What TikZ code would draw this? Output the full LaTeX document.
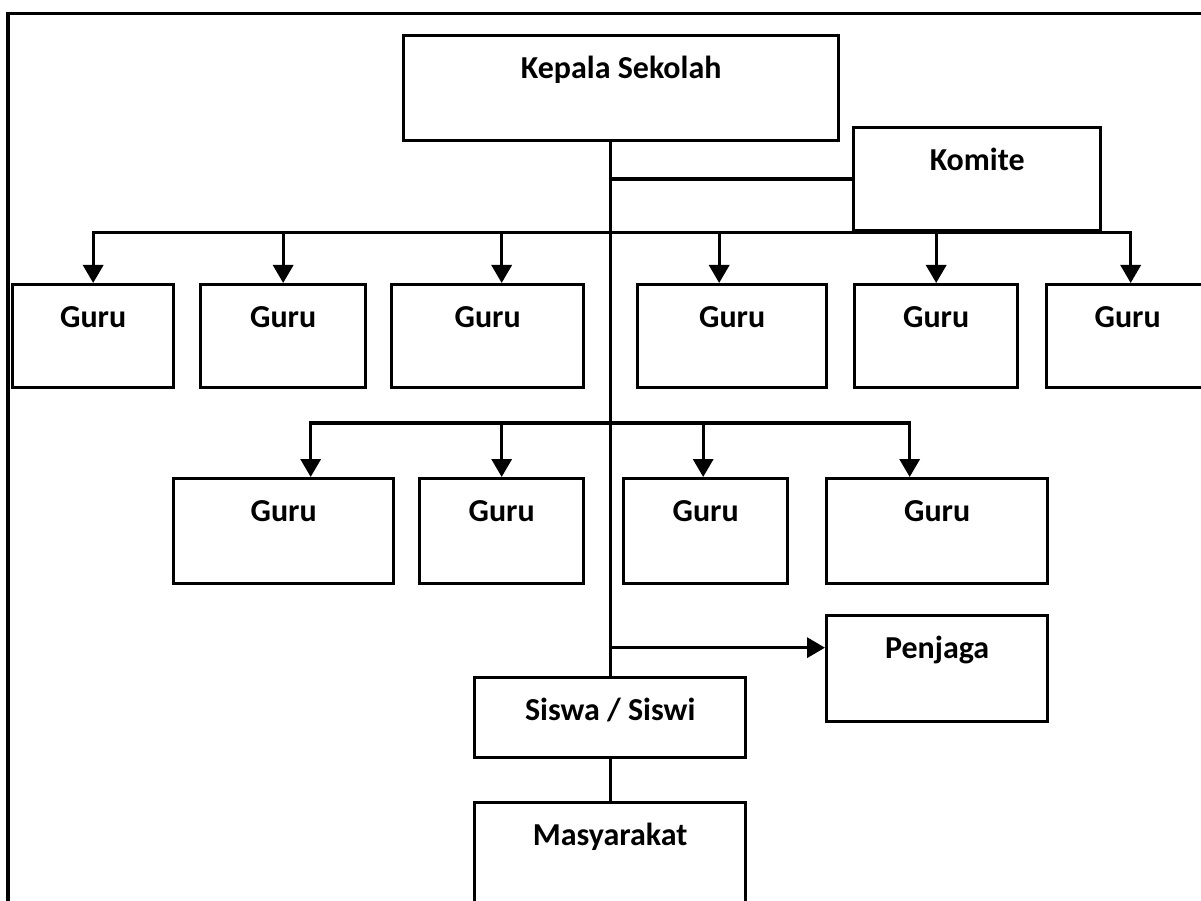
\documentclass[tikz,border=0pt]{standalone}
\usepackage{fontspec}
\setmainfont{Carlito}
\usetikzlibrary{arrows.meta}

\begin{document}
\begin{tikzpicture}[font=\bfseries\fontsize{18.2}{20}\selectfont,
	unit/.style 2 args={draw, line width=1.9pt, inner sep=0pt, anchor=north west, minimum width=#1cm, text height=0.86cm, text depth=#2cm},
	feed/.style={line width=1.9pt, -{Triangle[length=0.36cm, width=0.4cm]}},
	tie/.style={line width=1.9pt}]
	\useasboundingbox (0,0) rectangle (24.02,-18.02);
	\clip (0,0) rectangle (24.02,-18.02);
	% frame
	\draw[tie] (0.16,-19) |- (25,-0.27);
	% top
	\node[unit={8.70}{1.24}] (kepsek) at (8.04,-0.68) {Kepala Sekolah};
	\node[unit={4.94}{1.20}] (komite) at (17.04,-2.52) {Komite};
	% guru, first row
	\node[unit={3.22}{1.20}] (g1) at (0.22,-5.66) {Guru};
	\node[unit={3.30}{1.20}] (g2) at (3.98,-5.66) {Guru};
	\node[unit={3.84}{1.20}] (g3) at (7.80,-5.66) {Guru};
	\node[unit={3.78}{1.20}] (g4) at (12.72,-5.66) {Guru};
	\node[unit={3.26}{1.20}] (g5) at (17.06,-5.66) {Guru};
	\node[unit={3.24}{1.20}] (g6) at (20.90,-5.66) {Guru};
	% guru, second row
	\node[unit={4.40}{1.24}] (h1) at (3.44,-9.54) {Guru};
	\node[unit={3.28}{1.24}] (h2) at (8.36,-9.54) {Guru};
	\node[unit={3.28}{1.24}] (h3) at (12.44,-9.54) {Guru};
	\node[unit={4.42}{1.24}] (h4) at (16.50,-9.54) {Guru};
	% bottom
	\node[unit={4.42}{1.26}] (penjaga) at (16.50,-12.28) {Penjaga};
	\node[unit={5.42}{0.74}] (siswa) at (9.46,-13.52) {Siswa / Siswi};
	\node[unit={5.42}{1.34}] (masy) at (9.46,-16.02) {Masyarakat};
	% trunk
	\draw[tie] (siswa.north |- kepsek.south) -- (siswa.north);
	\draw[tie] (komite.west) -- (komite.west -| siswa.north);
	\coordinate (j1) at (siswa.north |- komite.south);
	\draw[feed] (j1) -| (g1.north);
	\draw[feed] (j1) -| (g2.north);
	\draw[feed] (j1) -| ([xshift=0.28cm]g3.north);
	\draw[feed] (j1) -| ([xshift=-0.26cm]g4.north);
	\draw[feed] (j1) -| (g5.north);
	\draw[feed] (j1) -| ([xshift=0.06cm]g6.north);
	\path (siswa.north |- h2.north) ++(0,1.08) coordinate (j2);
	\draw[feed] (j2) -| ([xshift=0.54cm]h1.north);
	\draw[feed] (j2) -| (h2.north);
	\draw[feed] (j2) -| ([xshift=-0.05cm]h3.north);
	\draw[feed] (j2) -| ([xshift=-0.55cm]h4.north);
	\path ([yshift=0.42cm]penjaga.west) coordinate (pj);
	\draw[feed] (pj -| siswa.north) -- (pj);
	\draw[tie] (siswa.south) -- (masy.north);
\end{tikzpicture}
\end{document}
